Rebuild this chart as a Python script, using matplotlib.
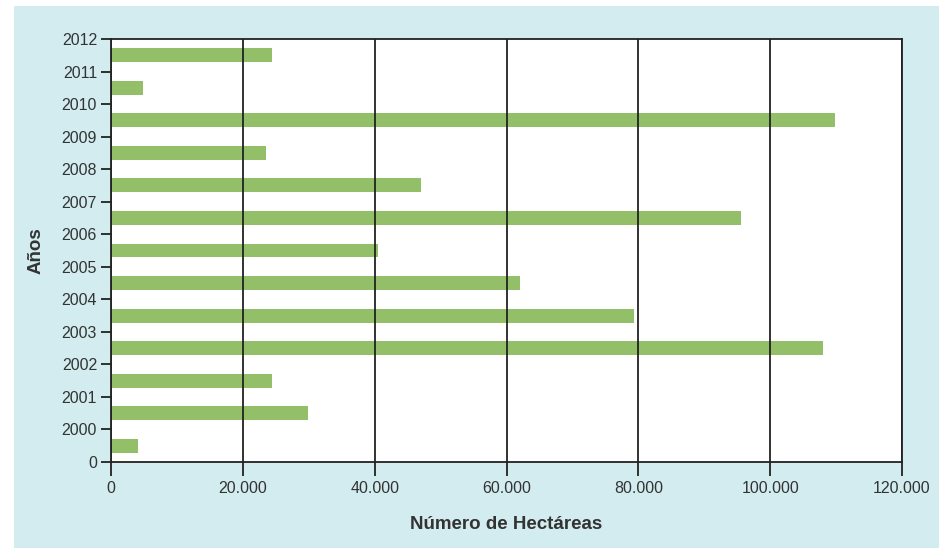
import matplotlib
matplotlib.use("Agg")
import matplotlib.pyplot as plt
from matplotlib.patches import Rectangle

# hectares per interval, bottom (0-2000) to top (2011-2012)
hectares = [4100, 29900, 24400, 108000, 79400, 62000, 40500,
            95600, 47000, 23500, 109800, 4900, 24400]
year_labels = ["0", "2000", "2001", "2002", "2003", "2004", "2005",
               "2006", "2007", "2008", "2009", "2010", "2011", "2012"]
x_ticks = [0, 20000, 40000, 60000, 80000, 100000, 120000]
x_labels = ["0", "20.000", "40.000", "60.000", "80.000", "100.000", "120.000"]

plt.rcParams["font.family"] = ["Liberation Sans", "DejaVu Sans"]
text_color = "#333333"

fig = plt.figure(figsize=(9.47, 5.48), dpi=100)
fig.patches.append(Rectangle((14 / 947, 0), 925 / 947, 1 - 6 / 548,
                             transform=fig.transFigure, facecolor="#d3ecef",
                             edgecolor="none", zorder=-10))

ax = fig.add_axes([111 / 947, 1 - 462 / 548, 791 / 947, 423 / 548])
ax.set_zorder(1)
ax.set_facecolor("white")

positions = [i + 0.5 for i in range(len(hectares))]
ax.barh(positions, hectares, height=0.43, color="#92bf67", zorder=2)

ax.set_xlim(0, 120000)
ax.set_ylim(0, len(hectares))
ax.set_xticks(x_ticks)
ax.set_xticklabels(x_labels)
ax.set_yticks(range(len(year_labels)))
ax.set_yticklabels(year_labels)

ax.grid(axis="x", color="#222222", linewidth=1.3, zorder=3)
ax.set_axisbelow(False)
for s in ax.spines.values():
    s.set_color("#222222")
    s.set_linewidth(1.3)
    s.set_zorder(4)

ax.tick_params(axis="y", direction="out", length=7, width=1.3,
               labelsize=11.5, labelcolor=text_color, color="#222222", pad=3)
ax.tick_params(axis="x", direction="out", length=10, width=1.3,
               labelsize=11.5, labelcolor=text_color, color="#222222", pad=4)

ax.set_xlabel("Número de Hectáreas", fontsize=13.5, fontweight="bold",
              color=text_color, labelpad=14)
ax.set_ylabel("Años", fontsize=13.5, fontweight="bold", color=text_color,
              labelpad=12)

fig.savefig("out.png", dpi=100)
